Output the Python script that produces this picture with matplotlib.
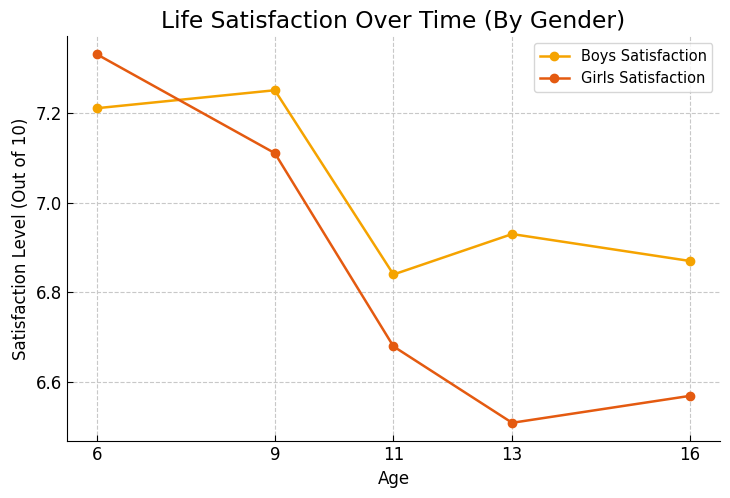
import matplotlib
matplotlib.use("Agg")
import matplotlib.pyplot as plt

ages = [6, 9, 11, 13, 16]
boys = [7.21, 7.25, 6.84, 6.93, 6.87]
girls = [7.33, 7.11, 6.68, 6.51, 6.57]

fig, ax = plt.subplots(figsize=(7.3, 4.98), dpi=100)
fig.subplots_adjust(left=0.092, right=0.986, top=0.928, bottom=0.114)

ax.plot(ages, boys, marker='o', color='#F5A300', linewidth=1.8, markersize=6, label='Boys Satisfaction')
ax.plot(ages, girls, marker='o', color='#E45A10', linewidth=1.8, markersize=6, label='Girls Satisfaction')

ax.set_title('Life Satisfaction Over Time (By Gender)', fontsize=16.8)
ax.set_xlabel('Age', fontsize=12)
ax.set_ylabel('Satisfaction Level (Out of 10)', fontsize=12)
ax.set_xticks(ages)
ax.set_yticks([6.6, 6.8, 7.0, 7.2])
ax.tick_params(direction='in', labelsize=12, length=4)
ax.grid(True, linestyle='--', color='#c8c8c8', linewidth=0.8)
ax.spines['top'].set_visible(False)
ax.spines['right'].set_visible(False)
ax.legend(loc='upper right', fontsize=10.5)

fig.savefig('out.png', dpi=100)
